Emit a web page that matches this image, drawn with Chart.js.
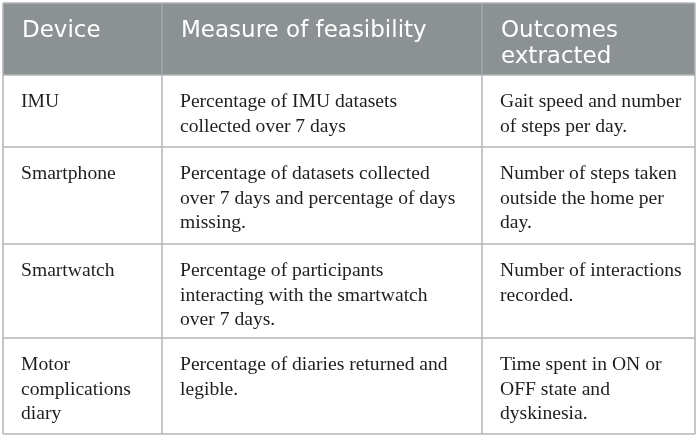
<!DOCTYPE html>
<html>
<head>
<meta charset="utf-8">
<script src="https://cdn.jsdelivr.net/npm/chart.js@4/dist/chart.umd.min.js"></script>
<style>
  html, body { margin: 0; padding: 0; background: #ffffff; }
  #wrap { width: 700px; height: 440px; }
</style>
</head>
<body>
<div id="wrap"><canvas id="c" width="700" height="440"></canvas></div>
<script>
// ---- table content (text data) ----
const headers = ["Device", "Measure of feasibility", "Outcomes\nextracted"];
const devices = ["IMU", "Smartphone", "Smartwatch", "Motor\ncomplications\ndiary"];
const measures = [
  "Percentage of IMU datasets\ncollected over 7 days",
  "Percentage of datasets collected\nover 7 days and percentage of days\nmissing.",
  "Percentage of participants\ninteracting with the smartwatch\nover 7 days.",
  "Percentage of diaries returned and\nlegible."
];
const outcomes = [
  "Gait speed and number\nof steps per day.",
  "Number of steps taken\noutside the home per\nday.",
  "Number of interactions\nrecorded.",
  "Time spent in ON or\nOFF state and\ndyskinesia."
];

// ---- layout (scale units) ----
const colEdges = [3, 162, 482, 695];
const rowEdges = [3, 75, 147, 244, 338, 434];

const tablePlugin = {
  id: 'tablePlugin',
  afterDraw(chart) {
    const ctx = chart.ctx;
    const xs = chart.scales.x, ys = chart.scales.y;
    const X = v => xs.getPixelForValue(v);
    const Y = v => ys.getPixelForValue(v);
    const columns = [devices, measures, outcomes];
    ctx.save();
    // header background
    ctx.fillStyle = '#8c9194';
    ctx.fillRect(X(colEdges[0]), Y(rowEdges[0]), X(colEdges[3]) - X(colEdges[0]), Y(rowEdges[1]) - Y(rowEdges[0]));
    // header text
    ctx.fillStyle = '#ffffff';
    ctx.font = '23px "DejaVu Sans"';
    ctx.textBaseline = 'alphabetic';
    headers.forEach((h, c) => {
      h.split('\n').forEach((line, i) => {
        ctx.fillText(line, X(colEdges[c]) + 19, Y(rowEdges[0]) + 34 + i * 26);
      });
    });
    // body text
    ctx.fillStyle = '#1e1e1e';
    ctx.font = '19.6px "Liberation Serif"';
    for (let r = 0; r < devices.length; r++) {
      columns.forEach((col, c) => {
        col[r].split('\n').forEach((line, i) => {
          ctx.fillText(line, X(colEdges[c]) + 18, Y(rowEdges[r + 1]) + 32 + i * 24.5);
        });
      });
    }
    // grid lines
    ctx.lineWidth = 1.5;
    ctx.strokeStyle = '#b3b5b7';
    rowEdges.forEach((ry, i) => {
      if (i === 0) return;
      ctx.beginPath();
      ctx.moveTo(X(colEdges[0]), Y(ry));
      ctx.lineTo(X(colEdges[3]), Y(ry));
      ctx.stroke();
    });
    colEdges.forEach((cx, i) => {
      ctx.beginPath();
      ctx.strokeStyle = '#b3b5b7';
      ctx.moveTo(X(cx), Y(rowEdges[1]));
      ctx.lineTo(X(cx), Y(rowEdges[rowEdges.length - 1]));
      ctx.stroke();
      ctx.beginPath();
      ctx.strokeStyle = (i === 0 || i === colEdges.length - 1) ? '#b3b5b7' : '#a4a8ab';
      ctx.moveTo(X(cx), Y(rowEdges[0]));
      ctx.lineTo(X(cx), Y(rowEdges[1]));
      ctx.stroke();
    });
    ctx.strokeStyle = '#b3b5b7';
    ctx.beginPath();
    ctx.moveTo(X(colEdges[0]), Y(rowEdges[0]));
    ctx.lineTo(X(colEdges[3]), Y(rowEdges[0]));
    ctx.stroke();
    ctx.restore();
  }
};

new Chart(document.getElementById('c'), {
  type: 'scatter',
  data: { datasets: [{ data: [], pointRadius: 0 }] },
  options: {
    responsive: false,
    animation: false,
    events: [],
    layout: { padding: 0 },
    plugins: { legend: { display: false }, tooltip: { enabled: false } },
    scales: {
      x: { type: 'linear', min: 0, max: 700, display: false },
      y: { type: 'linear', min: 0, max: 440, reverse: true, display: false }
    }
  },
  plugins: [tablePlugin]
});
</script>
</body>
</html>
